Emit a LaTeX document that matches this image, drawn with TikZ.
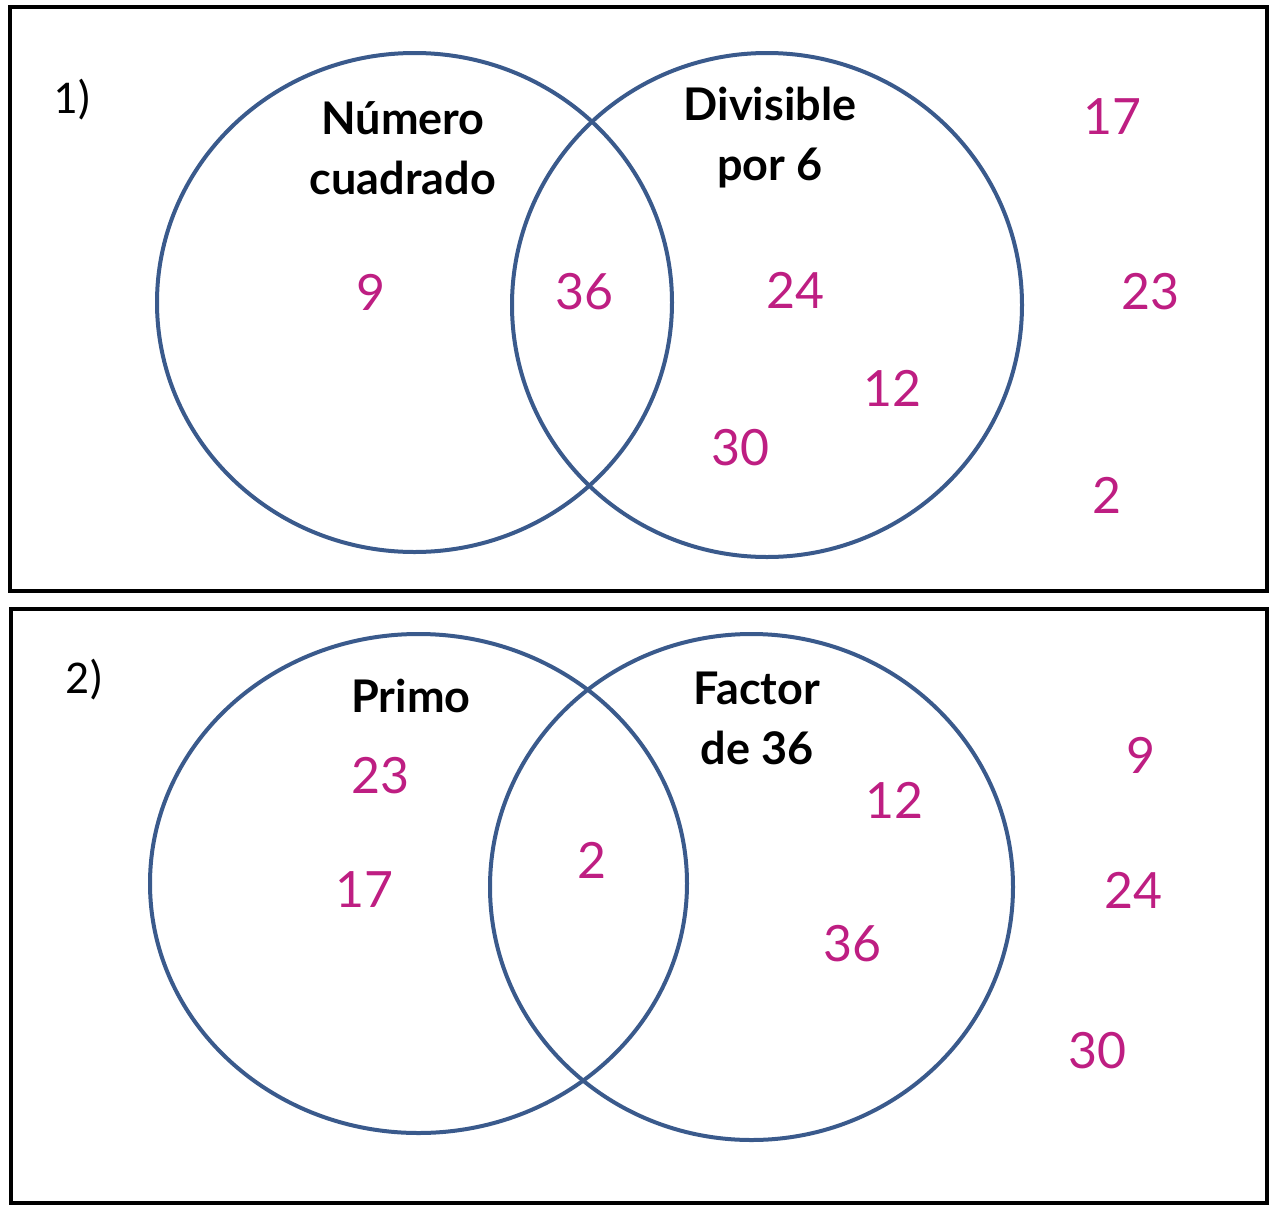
\documentclass[tikz,border=0pt]{standalone}
\usepackage{fontspec}
\setmainfont{Lato}
\newfontfamily\calib{Carlito}
\usetikzlibrary{shapes.geometric}
\definecolor{ringblue}{RGB}{58,90,140}
\definecolor{nummag}{RGB}{190,30,130}
\tikzset{
  ring/.style={draw=ringblue, line width=4pt, ellipse, inner sep=0pt},
  num/.style={text=nummag, font=\fontsize{50}{56}\selectfont, inner sep=0pt, anchor=center},
  lab/.style={text=black, font=\fontsize{45}{60}\selectfont\bfseries, inner sep=0pt, align=center, anchor=center},
  idx/.style={text=black, font=\calib\fontsize{47}{52}\selectfont, inner sep=0pt, anchor=center},
  panel/.style={draw=black, line width=4pt}
}
\begin{document}
\begin{tikzpicture}[x=1pt,y=-1pt]
\useasboundingbox (0,0) rectangle (1270,1205);
% panels
\draw[panel] (10,7) rectangle (1267,591);
\draw[panel] (11,609) rectangle (1267,1203);
% panel 1
\node[idx] (i1) at (73,100) {1)};
\node[ring, minimum width=515pt, minimum height=499pt] (A1) at (414.5,302.5) {};
\node[ring, minimum width=510pt, minimum height=504pt] (B1) at (767,305) {};
\node[lab] (la1) at (403,148) {Número\\cuadrado};
\node[lab] (lb1) at (770,138) {Divisible\\por 6};
\node[num] (n9) at (371,292) {9};
\node[num] (n36) at (584,292) {36};
\node[num] (n24) at (795,290) {24};
\node[num] (n12) at (892,388) {12};
\node[num] (n30) at (740,448) {30};
\node[num] (n17) at (1112,117) {17};
\node[num] (n23) at (1150,292) {23};
\node[num] (n2) at (1107,495) {2};
% panel 2
\node[idx] (i2) at (85,680) {2)};
\node[ring, minimum width=537pt, minimum height=499pt] (A2) at (418.5,883.5) {};
\node[ring, minimum width=523pt, minimum height=506pt] (B2) at (751.5,887) {};
\node[lab] (la2) at (411,696) {Primo};
\node[lab] (lb2) at (757,718) {Factor\\de 36};
\node[num] (m23) at (380,776) {23};
\node[num] (m17) at (364,890) {17};
\node[num] (m2) at (592,860) {2};
\node[num] (m12) at (894,800) {12};
\node[num] (m36) at (852,944) {36};
\node[num] (m9) at (1141,755) {9};
\node[num] (m24) at (1133,890) {24};
\node[num] (m30) at (1097,1051) {30};
\end{tikzpicture}
\end{document}
